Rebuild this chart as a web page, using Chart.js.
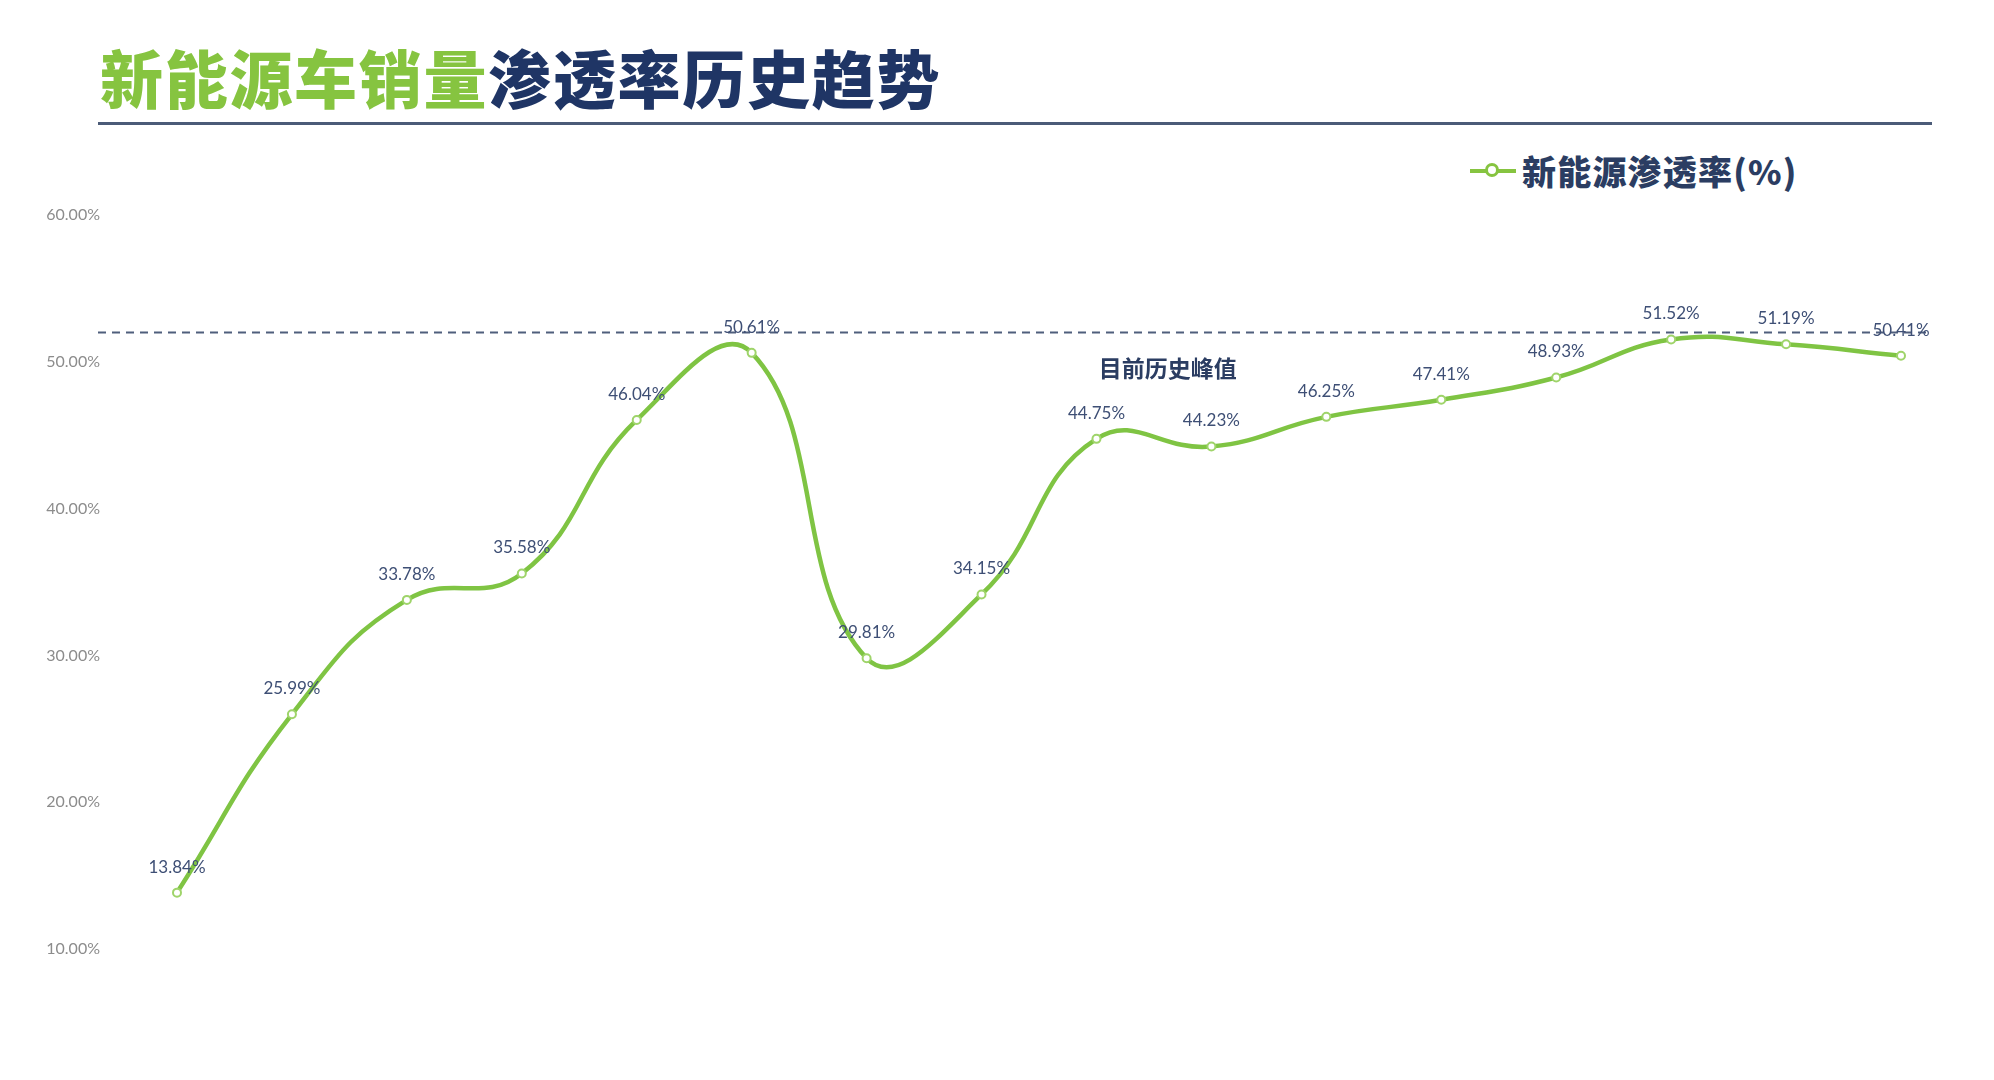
<!DOCTYPE html>
<html>
<head>
<meta charset="utf-8">
<script src="https://cdn.jsdelivr.net/npm/chart.js@4/dist/chart.umd.min.js"></script>
<style>
  html, body { margin: 0; padding: 0; background: #fff; }
  #wrap { position: relative; width: 1994px; height: 1080px; overflow: hidden; }
  #title {
    position: absolute; left: 100px; top: 36px;
    font-family: "Noto Sans CJK SC", sans-serif; font-weight: 900;
    font-size: 63px; line-height: 80px; letter-spacing: 1.7px;
  }
  #title .g { color: #86c440; }
  #title .b { color: #1f3565; }
  #rule { position: absolute; left: 98px; top: 122px; width: 1834px; height: 3px; background: #4b5b78; }
  #legend {
    position: absolute; left: 1470px; top: 146px; display: flex; align-items: center;
    font-family: "Noto Sans CJK SC", sans-serif; font-weight: 900; font-size: 34px; letter-spacing: 1.2px; color: #2b3d62;
  }
  #legend .mk { position: relative; width: 46px; height: 4px; background: #86c440; margin-right: 6px; }
  #legend .mk i { position: absolute; left: 15px; top: -6px; width: 8px; height: 8px; border: 3px solid #86c440; border-radius: 50%; background: #fff; box-sizing: content-box; }
  canvas { position: absolute; left: 0; top: 0; }
</style>
</head>
<body>
<div id="wrap">
  <div id="title"><span class="g">新能源车销量</span><span class="b">渗透率历史趋势</span></div>
  <div id="rule"></div>
  <div id="legend"><span class="mk"><i></i></span>新能源渗透率(%)</div>
  <canvas id="chart" width="1994" height="1080"></canvas>
</div>
<script>
const categories = ["1", "2", "3", "4", "5", "6", "7", "8", "9", "10", "11", "12", "13", "14", "15", "16"];
const penetration = [13.84, 25.99, 33.78, 35.58, 46.04, 50.61, 29.81, 34.15, 44.75, 44.23, 46.25, 47.41, 48.93, 51.52, 51.19, 50.41];
const yTicks = [10, 20, 30, 40, 50, 60];
const peakLine = 52;
const peakLabel = "目前历史峰值";
const seriesName = "新能源渗透率(%)";

const green = "#7fc443";
const navy = "#3e4f75";

const overlay = {
  id: "overlay",
  beforeDatasetsDraw(chart) {
    const ctx = chart.ctx;
    const y = chart.scales.y.getPixelForValue(peakLine);
    ctx.save();
    ctx.strokeStyle = "#4f5e7c";
    ctx.lineWidth = 2;
    ctx.setLineDash([8, 6]);
    ctx.beginPath();
    ctx.moveTo(98, y);
    ctx.lineTo(1932, y);
    ctx.stroke();
    ctx.setLineDash([]);
    ctx.fillStyle = "#2b3d62";
    ctx.font = "bold 23px 'Noto Sans CJK SC'";
    ctx.textAlign = "center";
    ctx.textBaseline = "middle";
    ctx.fillText(peakLabel, chart.scales.x.getPixelForValue(8.62), y + 36);
    ctx.restore();
  },
  afterDatasetsDraw(chart) {
    const ctx = chart.ctx;
    const meta = chart.getDatasetMeta(0);
    ctx.save();
    ctx.fillStyle = navy;
    ctx.font = "17px Lato";
    ctx.textAlign = "center";
    ctx.textBaseline = "bottom";
    meta.data.forEach((pt, i) => {
      ctx.fillText(penetration[i].toFixed(2) + "%", pt.x, pt.y - 17);
    });
    ctx.restore();
  }
};

new Chart(document.getElementById("chart").getContext("2d"), {
  type: "line",
  data: {
    labels: categories,
    datasets: [
      {
        label: seriesName,
        data: penetration,
        borderColor: green,
        borderWidth: 4.5,
        tension: 0.45,
        pointRadius: 4,
        pointBorderWidth: 2,
        pointBackgroundColor: "#fff",
        pointBorderColor: "#9fd46a",
        fill: false,
      },
    ],
  },
  options: {
    responsive: false,
    animation: false,
    layout: { padding: { left: 0, right: 93, top: 215, bottom: 131 } },
    plugins: { legend: { display: false }, tooltip: { enabled: false } },
    scales: {
      x: { display: false },
      y: {
        min: 10,
        max: 60,
        afterFit: (s) => { s.width = 177; },
        afterBuildTicks: (s) => { s.ticks = yTicks.map((v) => ({ value: v })); },
        grid: { display: false, drawTicks: false },
        border: { display: false },
        ticks: {
          padding: 77,
          color: "#8c8c8c",
          font: { family: "Lato", size: 16 },
          callback: (v) => v.toFixed(2) + "%",
        },
      },
    },
  },
  plugins: [overlay],
});
</script>
</body>
</html>
